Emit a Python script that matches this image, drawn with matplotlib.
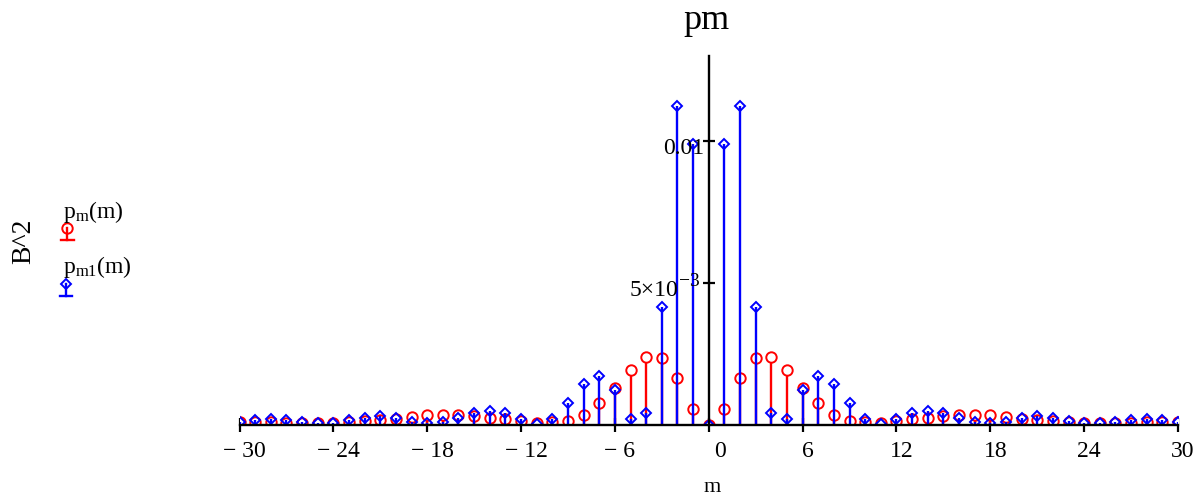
import matplotlib
matplotlib.use("Agg")
import matplotlib.pyplot as plt
from matplotlib.transforms import ScaledTranslation

plt.rcParams["font.family"] = ["Liberation Serif", "DejaVu Serif"]
plt.rcParams["mathtext.fontset"] = "custom"
plt.rcParams["mathtext.rm"] = "Liberation Serif"
plt.rcParams["mathtext.it"] = "Liberation Serif:italic"

# harmonic index
m = list(range(-30, 31))

# p_m(m), m = -30 .. 30
p_m = [
    0.00010, 0.00010, 0.00010, 0.00008, 0.00007, 0.00007, 0.00008, 0.00010, 0.00014, 0.00018,
    0.00022, 0.00028, 0.00034, 0.00035, 0.00035, 0.00031, 0.00026, 0.00022, 0.00014, 0.00008,
    0.00010, 0.00015, 0.00035, 0.00076, 0.00131, 0.00194, 0.00239, 0.00237, 0.00164, 0.00055,
    0.0,
    0.00055, 0.00164, 0.00237, 0.00239, 0.00194, 0.00131, 0.00076, 0.00035, 0.00015, 0.00010,
    0.00008, 0.00014, 0.00022, 0.00026, 0.00031, 0.00035, 0.00036, 0.00034, 0.00028, 0.00022,
    0.00018, 0.00014, 0.00010, 0.00008, 0.00007, 0.00007, 0.00008, 0.00010, 0.00010, 0.00010,
]

# p_m1(m), m = -30 .. 30
p_m1 = [
    0.00012, 0.00017, 0.00020, 0.00017, 0.00011, 0.00008, 0.00007, 0.00016, 0.00023, 0.00031,
    0.00026, 0.00012, 0.00008, 0.00012, 0.00026, 0.00043, 0.00051, 0.00043, 0.00021, 0.00005,
    0.00022, 0.00076, 0.00144, 0.00173, 0.00125, 0.00020, 0.00042, 0.00417, 0.01123, 0.00990,
    0.0,
    0.00990, 0.01123, 0.00417, 0.00042, 0.00020, 0.00125, 0.00173, 0.00144, 0.00076, 0.00022,
    0.00005, 0.00021, 0.00043, 0.00051, 0.00044, 0.00026, 0.00012, 0.00007, 0.00012, 0.00026,
    0.00031, 0.00023, 0.00015, 0.00008, 0.00007, 0.00010, 0.00017, 0.00020, 0.00017, 0.00012,
]

x_ticks = [-30, -24, -18, -12, -6, 0, 6, 12, 18, 24, 30]
x_tick_labels = ["\u2212 30", "\u2212 24", "\u2212 18", "\u2212 12", "\u2212 6",
                 "0", "6", "12", "18", "24", "30"]
y_ticks = [0.005, 0.01]
legend_labels = [r"$\mathrm{p_{m}(m)}$", r"$\mathrm{p_{m1}(m)}$"]

RED = "#ff0000"
BLUE = "#0000ff"

W, H = 1203, 504
fig = plt.figure(figsize=(W / 100, H / 100), dpi=100)

# pixel-space overlay for titles and legend
ov = fig.add_axes([0, 0, 1, 1])
ov.set_xlim(0, W)
ov.set_ylim(H, 0)
ov.axis("off")

left, right, bottom, top = 239.5, 1178.0, 425.0, 56.0
ax = fig.add_axes([left / W, (H - bottom) / H, (right - left) / W, (bottom - top) / H])
ax.set_xlim(-30, 30)
ax.set_ylim(0, 0.013)
ax.patch.set_alpha(0)

LW = 1.7
MEW = 1.4

# stems
ax.vlines(m, 0, p_m, colors=RED, linewidth=LW, zorder=2.0)
ax.plot(m, p_m, linestyle="none", marker="o", markersize=7.5, markeredgewidth=MEW,
        markeredgecolor=RED, markerfacecolor="white", zorder=2.1)
ax.vlines(m, 0, p_m1, colors=BLUE, linewidth=LW, zorder=2.2)
ax.plot(m, p_m1, linestyle="none", marker="D", markersize=5.0, markeredgewidth=MEW,
        markeredgecolor=BLUE, markerfacecolor="none", zorder=2.3)

for s in ("top", "right"):
    ax.spines[s].set_visible(False)
ax.spines["left"].set_position(("data", 0))
ax.spines["left"].set_linewidth(1.7)
ax.spines["bottom"].set_linewidth(1.7)
ax.spines["left"].set_zorder(2.5)
ax.spines["bottom"].set_zorder(2.5)

ax.set_xticks(x_ticks)
ax.set_yticks(y_ticks)
ax.tick_params(axis="x", direction="inout", length=10, width=1.6, labelbottom=False)
ax.tick_params(axis="y", direction="inout", length=9, width=1.6, labelleft=False)


def offset(dx, dy):
    return ax.transData + ScaledTranslation(dx / 100, dy / 100, fig.dpi_scale_trans)


# x tick labels
for xv, lab in zip(x_ticks, x_tick_labels):
    dx = 11 if lab == "0" else 5
    ax.text(xv, 0, lab, transform=offset(dx, -32), ha="center", va="baseline",
            fontsize=17, clip_on=False)

# y tick labels
ax.text(0, y_ticks[1], "0.01", transform=offset(-5, -12.5), ha="right",
        va="baseline", fontsize=17, clip_on=False)
ax.text(0, y_ticks[0], "5\u00d710", transform=offset(-30, -12.5), ha="right",
        va="baseline", fontsize=17, clip_on=False)
ax.text(0, y_ticks[0], "\u22123", transform=offset(-30, -2.5), ha="left",
        va="baseline", fontsize=14, clip_on=False)

# title and axis labels
ov.text(707, 29, "pm", ha="center", va="baseline", fontsize=26)
ov.text(712, 492, "m", ha="center", va="baseline", fontsize=16)
ov.text(24, 241, "B^2", ha="center", va="center", rotation=90, fontsize=20)

# legend
ov.text(63, 218, legend_labels[0], ha="left", va="baseline", fontsize=17)
ov.plot([67, 67], [228, 240], color=RED, linewidth=LW)
ov.plot([61, 74], [240, 240], color=RED, linewidth=LW)
ov.plot([67], [228], marker="o", markersize=7.5, markeredgewidth=MEW,
        markeredgecolor=RED, markerfacecolor="none")

ov.text(63, 273, legend_labels[1], ha="left", va="baseline", fontsize=17)
ov.plot([66, 66], [284, 296], color=BLUE, linewidth=LW)
ov.plot([60, 72], [296, 296], color=BLUE, linewidth=LW)
ov.plot([66], [284], marker="D", markersize=5.0, markeredgewidth=MEW,
        markeredgecolor=BLUE, markerfacecolor="none")

fig.savefig("out.png", dpi=100)
